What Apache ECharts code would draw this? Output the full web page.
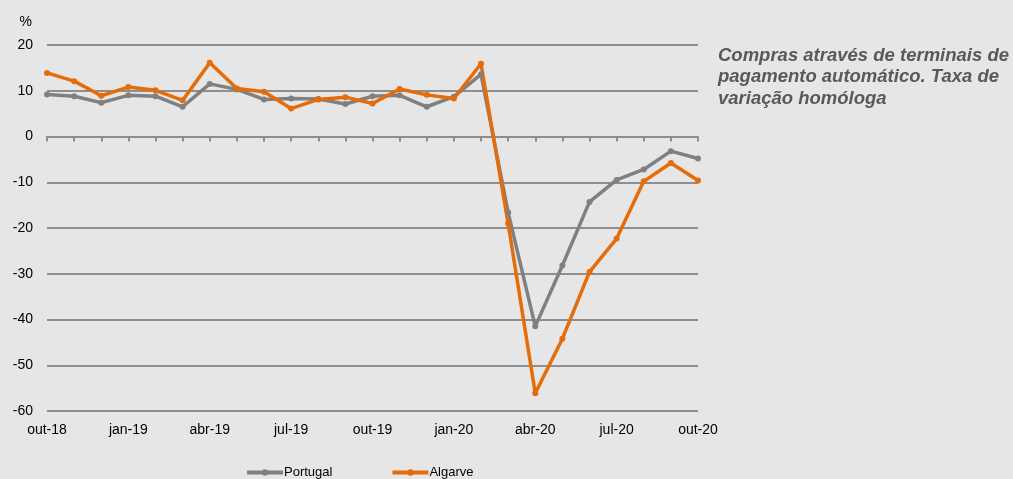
<!DOCTYPE html>
<html>
<head>
    <meta charset="utf-8">
    <title>Compras TPA</title>
    <script src="https://cdn.jsdelivr.net/npm/echarts@6/dist/echarts.min.js"></script>
    <style>
        html, body { margin: 0; padding: 0; background: #e6e6e6; }
        #chart { width: 1013px; height: 479px; }
    </style>
</head>
<body>
<div id="chart"></div>
<script>
    // meses (out-18 .. out-20)
    var meses = ['out-18', 'nov-18', 'dez-18', 'jan-19', 'fev-19', 'mar-19', 'abr-19', 'mai-19', 'jun-19',
        'jul-19', 'ago-19', 'set-19', 'out-19', 'nov-19', 'dez-19', 'jan-20', 'fev-20', 'mar-20',
        'abr-20', 'mai-20', 'jun-20', 'jul-20', 'ago-20', 'set-20', 'out-20']

    var portugal = [9.2, 8.8, 7.4, 9.0, 8.8, 6.5, 11.5, 10.3, 8.1, 8.3, 8.2, 7.1,
        8.8, 9.0, 6.5, 8.7, 13.6, -16.6, -41.5, -28.2, -14.3, -9.5, -7.2, -3.2, -4.8]

    var algarve = [13.9, 12.1, 8.9, 10.8, 10.1, 7.9, 16.1, 10.5, 9.8, 6.1, 8.1, 8.6,
        7.2, 10.4, 9.1, 8.3, 15.9, -19.0, -56.1, -44.2, -29.6, -22.3, -9.8, -5.8, -9.6]

    var yTicks = {min: -60, max: 20, step: 10}

    var myChart = echarts.init(document.getElementById('chart'))

    myChart.setOption({
        backgroundColor: '#e6e6e6',
        animation: false,
        textStyle: {fontFamily: 'Liberation Sans'},
        title: {
            text: 'Compras através de terminais de\npagamento automático. Taxa de\nvariação homóloga',
            left: 718,
            top: 45,
            padding: 0,
            textStyle: {
                fontFamily: 'Liberation Sans',
                fontSize: 18.5,
                fontWeight: 'bold',
                fontStyle: 'italic',
                color: '#595959',
                lineHeight: 21.5
            }
        },
        legend: {
            top: 466,
            left: 245,
            padding: 0,
            itemGap: 58,
            itemWidth: 36,
            itemHeight: 8,
            lineStyle: {width: 4},
            textStyle: {fontSize: 13, color: '#000', padding: [0, 0, 0, -4]},
            data: ['Portugal', 'Algarve']
        },
        grid: {left: 47, right: 315, top: 45, bottom: 68},
        xAxis: [{
            type: 'category',
            data: meses,
            boundaryGap: false,
            position: 'bottom',
            axisLine: {show: false, onZero: false},
            axisTick: {show: false},
            axisLabel: {interval: 2, color: '#000', fontSize: 14, margin: 12}
        }, {
            type: 'category',
            data: meses,
            boundaryGap: false,
            position: 'top',
            axisLine: {onZero: true, lineStyle: {color: '#8e8e8e', width: 2}},
            axisTick: {inside: true, length: 5, interval: 0, lineStyle: {color: '#8e8e8e', width: 2}},
            axisLabel: {show: false}
        }],
        yAxis: {
            type: 'value',
            min: yTicks.min,
            max: yTicks.max,
            interval: yTicks.step,
            name: '%',
            nameLocation: 'end',
            nameGap: 16,
            nameTextStyle: {color: '#000', fontSize: 14, align: 'right', padding: [0, 15, 0, 0]},
            axisLine: {show: false},
            axisTick: {show: false},
            axisLabel: {color: '#000', fontSize: 14, margin: 14},
            splitLine: {lineStyle: {color: '#8e8e8e', width: 2}}
        },
        series: [{
            name: 'Portugal',
            type: 'line',
            data: portugal,
            symbol: 'circle',
            symbolSize: 6,
            color: '#808080',
            lineStyle: {width: 3.5}
        }, {
            name: 'Algarve',
            type: 'line',
            data: algarve,
            symbol: 'circle',
            symbolSize: 6,
            color: '#e46c0a',
            lineStyle: {width: 3.5}
        }]
    })
</script>
</body>
</html>
